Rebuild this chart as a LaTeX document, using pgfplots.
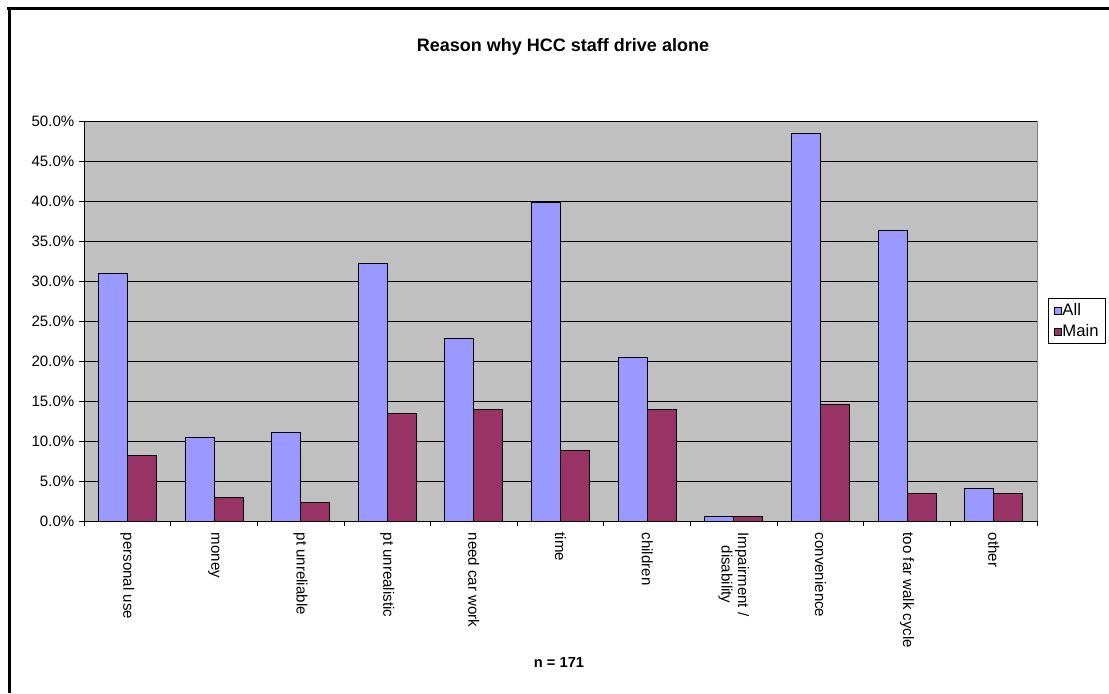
\documentclass[border=0pt]{standalone}
\usepackage{pgfplots}
\usepackage{pgfplotstable}
\pgfplotsset{compat=1.18}
\usepackage{fontspec}
\setmainfont{Liberation Sans}

\definecolor{allc}{HTML}{9999FF}
\definecolor{mainc}{HTML}{993366}
\definecolor{plotbg}{HTML}{C0C0C0}
\definecolor{plotedge}{HTML}{808080}

% share of respondents (%), n = 171
\pgfplotstableread{
idx all main
0 31.0 8.2
1 10.5 2.9
2 11.1 2.3
3 32.2 13.5
4 22.8 14.0
5 39.8 8.8
6 20.5 14.0
7 0.6 0.6
8 48.5 14.6
9 36.3 3.5
10 4.1 3.5
}\reasons

\begin{document}
\begin{tikzpicture}
\begin{scope}[x=0.75pt,y=0.75pt]
  \useasboundingbox (0,0) rectangle (1109,693);
  % frame
  \draw[line width=2.25pt] (7,684.8) -- (1109,684.8);
  \draw[line width=2.25pt] (9.5,685.9) -- (9.5,0);
  % title and footnote
  \node[font=\bfseries\fontsize{13.5}{16}\selectfont] at (563,646) {Reason why HCC staff drive alone};
  \node[font=\bfseries\fontsize{11}{13}\selectfont] at (559,31) {n = 171};
\end{scope}
\begin{axis}[
  at={(63pt,129pt)}, anchor=south west,
  scale only axis, width=714.75pt, height=300pt,
  ybar, bar width=0.335,
  xmin=-0.5, xmax=10.5, ymin=0, ymax=50,
  ytick={0,5,...,50},
  yticklabel={\pgfmathprintnumber[fixed,fixed zerofill,precision=1]{\tick}\%},
  /pgf/number format/assume math mode=true,
  xtick={0,...,10},
  xticklabels={personal use, money, pt unreliable, pt unrealistic, need car work, time, children, {Impairment /\\disability}, convenience, too far walk cycle, other},
  minor xtick={-0.5,0.5,...,10.5},
  major x tick style={draw=none},
  tick align=outside,
  major tick length=3.75pt, minor tick length=3.75pt,
  tick style={black, line width=0.6pt},
  axis x line*=bottom, axis y line*=left,
  axis line style={-, black, line width=0.75pt},
  axis background/.style={fill=plotbg, draw=plotedge, line width=0.75pt},
  ymajorgrids,
  major grid style={black, line width=0.6pt},
  tick label style={font=\fontsize{11.3}{12.5}\selectfont},
  xticklabel style={rotate=-90, anchor=west, align=center, xshift=1.5pt},
  legend entries={All, Main},
  legend cell align=left,
  legend style={at={(1.0115,0.5)}, anchor=west, draw=black, line width=0.75pt,
    font=\fontsize{12.5}{14}\selectfont, inner xsep=4pt, inner ysep=3pt, row sep=3.5pt,
    nodes={inner sep=0.8pt}},
  legend image code/.code={\draw[#1, draw=black, line width=0.5pt] (0pt,-2.6pt) rectangle (5.2pt,2.6pt);},
]
\addplot[fill=allc, draw=black, line width=0.6pt, bar shift=-0.1675] table[x=idx, y=all] {\reasons};
\addplot[fill=mainc, draw=black, line width=0.6pt, bar shift=0.1675] table[x=idx, y=main] {\reasons};
\end{axis}
\end{tikzpicture}
\end{document}
